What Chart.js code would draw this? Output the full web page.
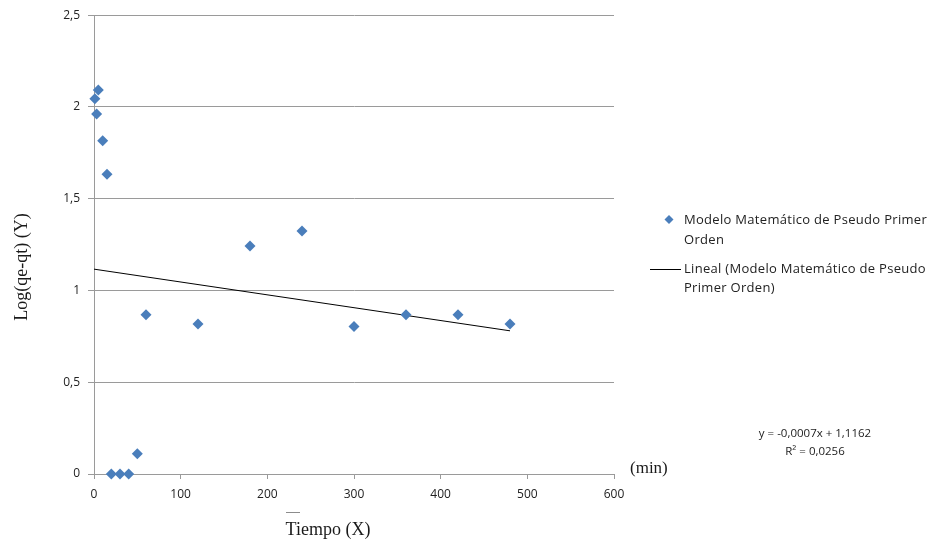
<!DOCTYPE html>
<html>
<head>
<meta charset="utf-8">
<script src="https://cdn.jsdelivr.net/npm/chart.js@4/dist/chart.umd.min.js"></script>
<style>
  html, body { margin: 0; padding: 0; background: #fff; }
  #wrap { width: 935px; height: 547px; }
</style>
</head>
<body>
<div id="wrap"><canvas id="chart" width="935" height="547"></canvas></div>
<script>
// Tiempo (min) and Log(qe-qt) readings
const tiempo = [1, 3, 5, 10, 15, 20, 30, 40, 50, 60, 120, 180, 240, 300, 360, 420, 480];
const logQ = [2.045, 1.962, 2.093, 1.816, 1.634, 0, 0, 0, 0.11, 0.868, 0.817, 1.242, 1.324, 0.804, 0.868, 0.868, 0.817];

// Linear trend as reported: y = -0,0007x + 1,1162
const trendSlope = -0.0007;
const trendIntercept = 1.1162;
const trendRange = [0, 480];
const trendR2 = 0.0256;

const xTicks = [0, 100, 200, 300, 400, 500, 600];
const yTicks = [0, 0.5, 1, 1.5, 2, 2.5];

const serieLabel = "Modelo Matemático de Pseudo Primer Orden";
const trendLabel = "Lineal (Modelo Matemático de Pseudo Primer Orden)";

const blue = "#4a7ebb";
const gridGray = "#9a9a9a";
const sansFont = "'Open Sans', 'DejaVu Sans', sans-serif";
const serifFont = "'Liberation Serif', 'DejaVu Serif', serif";

const fmt = v => String(v).replace(".", ",");

// axis titles, legend and equation text drawn by hand on the right side
const extras = {
  id: "extras",
  afterDraw(chart) {
    const ctx = chart.ctx;
    ctx.save();
    ctx.fillStyle = "#1a1a1a";

    // y axis title
    ctx.font = "18px " + serifFont;
    ctx.textAlign = "center";
    ctx.textBaseline = "middle";
    ctx.save();
    ctx.translate(22, 267);
    ctx.rotate(-Math.PI / 2);
    ctx.fillText("Log(qe-qt) (Y)", 0, 0);
    ctx.restore();

    // x axis title with its small mark above
    ctx.fillText("Tiempo (X)", 328, 530);
    ctx.strokeStyle = "#8c8c8c";
    ctx.lineWidth = 1;
    ctx.beginPath();
    ctx.moveTo(286, 512.5);
    ctx.lineTo(300, 512.5);
    ctx.stroke();

    ctx.font = "17px " + serifFont;
    ctx.textAlign = "left";
    ctx.fillText("(min)", 630, 469);

    // legend
    ctx.font = "13px " + sansFont;
    ctx.letterSpacing = "0.3px";
    ctx.fillStyle = "#222";
    ctx.textBaseline = "middle";
    ctx.fillText("Modelo Matemático de Pseudo Primer", 684, 220);
    ctx.fillText("Orden", 684, 240);
    ctx.fillText("Lineal (Modelo Matemático de Pseudo", 684, 269);
    ctx.fillText("Primer Orden)", 684, 288);
    ctx.letterSpacing = "0px";

    ctx.fillStyle = blue;
    ctx.beginPath();
    ctx.moveTo(669, 215); ctx.lineTo(673.5, 219.5);
    ctx.lineTo(669, 224); ctx.lineTo(664.5, 219.5);
    ctx.closePath();
    ctx.fill();

    ctx.strokeStyle = "#000";
    ctx.beginPath();
    ctx.moveTo(650, 269.5);
    ctx.lineTo(681, 269.5);
    ctx.stroke();

    // trend equation
    ctx.fillStyle = "#222";
    ctx.font = "11.5px " + sansFont;
    ctx.textAlign = "center";
    const sign = trendIntercept >= 0 ? " + " : " - ";
    ctx.fillText("y = " + fmt(trendSlope) + "x" + sign + fmt(Math.abs(trendIntercept)), 815, 434);
    ctx.fillText("R² = " + fmt(trendR2), 815, 452);
    ctx.restore();
  }
};

const points = tiempo.map((t, i) => ({ x: t, y: logQ[i] }));
const trend = trendRange.map(t => ({ x: t, y: trendIntercept + trendSlope * t }));

new Chart(document.getElementById("chart").getContext("2d"), {
  type: "scatter",
  data: {
    datasets: [
      {
        label: serieLabel,
        data: points,
        pointStyle: "rectRot",
        pointRadius: 5.5,
        backgroundColor: blue,
        borderColor: blue,
        borderWidth: 0,
        clip: false,
        order: 1
      },
      {
        label: trendLabel,
        type: "line",
        data: trend,
        borderColor: "#000",
        borderWidth: 1,
        pointRadius: 0,
        fill: false,
        order: 2
      }
    ]
  },
  options: {
    responsive: false,
    animation: false,
    layout: { padding: { left: 0, right: 321, top: 15, bottom: 0 } },
    plugins: {
      legend: { display: false },
      tooltip: { enabled: false }
    },
    scales: {
      x: {
        type: "linear",
        min: xTicks[0],
        max: xTicks[xTicks.length - 1],
        afterBuildTicks: axis => { axis.ticks = xTicks.map(v => ({ value: v })); },
        afterFit: axis => { axis.height = 73; },
        grid: { drawOnChartArea: false, drawTicks: true, tickLength: 5, tickColor: gridGray },
        border: { color: gridGray, width: 1 },
        ticks: {
          color: "#222",
          font: { family: sansFont, size: 12 },
          padding: 8,
          maxRotation: 0,
          callback: v => fmt(v)
        }
      },
      y: {
        type: "linear",
        min: yTicks[0],
        max: yTicks[yTicks.length - 1],
        afterBuildTicks: axis => { axis.ticks = yTicks.map(v => ({ value: v })); },
        afterFit: axis => { axis.width = 94; },
        grid: { color: gridGray, lineWidth: 1, drawTicks: true, tickLength: 6, tickColor: gridGray },
        border: { color: gridGray, width: 1 },
        ticks: {
          color: "#222",
          font: { family: sansFont, size: 12 },
          padding: 8,
          callback: v => fmt(v)
        }
      }
    }
  },
  plugins: [extras]
});
</script>
</body>
</html>
